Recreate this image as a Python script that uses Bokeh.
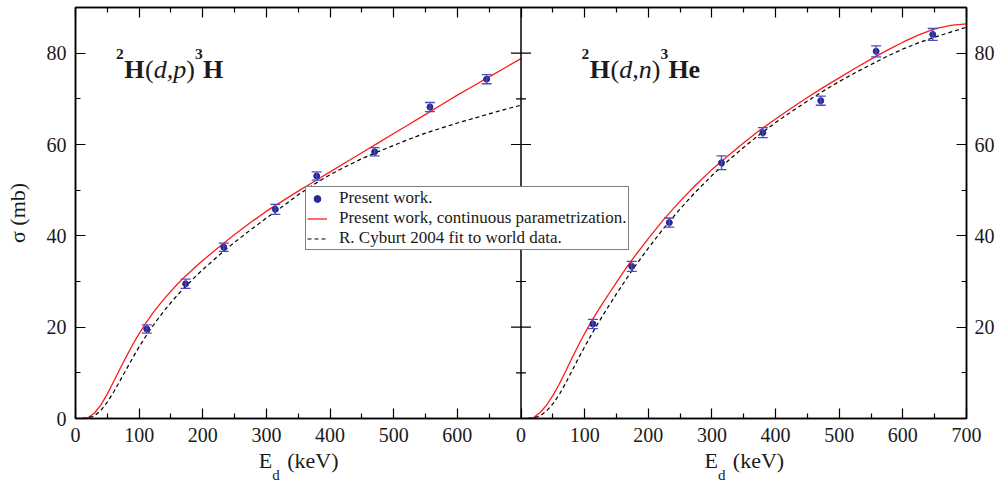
from bokeh.plotting import figure
from bokeh.models import (Range1d, LinearAxis, FixedTicker, Span, Label, Legend,
                          LegendItem, Whisker, TeeHead, ColumnDataSource)
from bokeh.embed import file_html
from bokeh.resources import INLINE

# ---------------- data ----------------
E_curve = [0, 10, 20, 30, 40, 50, 60, 70, 80, 90, 100, 110, 120, 130, 140, 150, 160, 170,
           180, 190, 200, 225, 250, 275, 300, 325, 350, 375, 400, 425, 450, 475, 500, 525,
           550, 575, 600, 625, 650, 675, 700]
# 2H(d,p)3H
dp_fit = [0, 0, 0.2, 1.2, 3.0, 5.4, 8.1, 10.9, 13.6, 16.2, 18.6, 20.8, 22.8, 24.6, 26.3,
          27.9, 29.4, 30.8, 32.1, 33.4, 34.6, 37.5, 40.3, 42.9, 45.4, 47.6, 49.8, 51.9,
          54.0, 56.1, 58.2, 60.3, 62.4, 64.5, 66.6, 68.7, 70.8, 72.8, 74.8, 76.8, 78.8]
dp_cyb = [0, 0, 0.1, 0.6, 1.8, 3.6, 5.8, 8.3, 10.8, 13.3, 15.7, 17.9, 20.0, 21.9, 23.7,
          25.4, 27.0, 28.5, 29.9, 31.3, 32.6, 35.7, 38.6, 41.3, 43.9, 46.4, 49.0, 51.3,
          53.4, 55.2, 56.9, 58.4, 59.8, 61.2, 62.5, 63.6, 64.7, 65.7, 66.7, 67.7, 68.6]
dp_E = [112, 173, 233, 314, 379, 470, 557, 646]
dp_sig = [19.6, 29.5, 37.5, 45.8, 53.1, 58.4, 68.2, 74.3]
dp_err = [0.9, 1.0, 0.9, 1.1, 0.9, 0.9, 1.0, 1.0]
# 2H(d,n)3He
dn_fit = [0, 0, 0.2, 1.3, 2.9, 5.0, 7.5, 10.3, 13.2, 16.0, 18.6, 21.1, 23.4, 25.6, 27.7,
          29.8, 31.9, 33.9, 35.8, 37.6, 39.4, 43.7, 47.6, 51.2, 54.5, 57.5, 60.4, 63.1,
          65.6, 68.0, 70.3, 72.5, 74.6, 76.7, 78.7, 80.6, 82.4, 84.0, 85.3, 86.1, 86.4]
dn_cyb = [0, 0, 0.1, 0.6, 1.6, 3.2, 5.2, 7.7, 10.4, 13.1, 15.7, 18.2, 20.6, 22.9, 25.1,
          27.3, 29.4, 31.5, 33.5, 35.4, 37.3, 41.8, 45.9, 49.7, 53.2, 56.4, 59.4, 62.2,
          64.8, 67.2, 69.5, 71.7, 73.8, 75.7, 77.5, 79.3, 80.9, 82.3, 83.5, 84.6, 85.7]
dn_E = [113, 174, 233, 315, 380, 471, 558, 647]
dn_sig = [20.7, 33.3, 42.9, 56.0, 62.6, 69.6, 80.4, 84.1]
dn_err = [1.0, 1.1, 1.0, 1.5, 1.1, 1.0, 1.2, 1.3]

x_major = [0, 100, 200, 300, 400, 500, 600, 700]
x_minor = [50, 150, 250, 350, 450, 550, 650]
y_major = [0, 20, 40, 60, 80]
y_minor = [10, 30, 50, 70, 90]

legend_labels = ["Present work.",
                 "Present work, continuous parametrization.",
                 "R. Cyburt 2004 fit to world data."]

# ---------------- styling / geometry ----------------
FONT = "Liberation Serif"
RED = "#ff1a1a"
NAVY = "#2a2a8c"
ERR = "#4b4bc4"
TXT = "#1a1a1a"
PANEL = 700   # keV span of one panel
YTOP = 90

W, H = 998, 485
FL, FR, FT, FB = 75, 32, 7, 66
frame_w = W - FL - FR
frame_h = H - FT - FB
kev_per_px = 2 * PANEL / frame_w
mb_per_px = YTOP / frame_h

p = figure(width=W, height=H, x_range=Range1d(0, 2 * PANEL), y_range=Range1d(0, YTOP),
           output_backend="svg", toolbar_location=None,
           min_border_left=FL, min_border_right=FR, min_border_top=FT, min_border_bottom=FB,
           x_axis_location=None, y_axis_location=None)
p.extra_x_ranges = {"right": Range1d(-PANEL, PANEL)}
p.grid.visible = False
p.background_fill_color = "white"
p.border_fill_color = "white"
p.outline_line_color = "black"
p.outline_line_width = 1.5

x_ticks = [v for v in x_major] + [v + PANEL for v in x_major[1:]]
x_ticker = FixedTicker(ticks=x_ticks,
                       minor_ticks=[v for v in x_minor] + [v + PANEL for v in x_minor])
y_ticker = FixedTicker(ticks=y_major, minor_ticks=y_minor)


def style_axis(ax):
    ax.axis_line_color = "black"
    ax.axis_line_width = 1.5
    ax.major_tick_in = 10
    ax.major_tick_out = 0
    ax.minor_tick_in = 5
    ax.minor_tick_out = 0
    ax.major_tick_line_color = "black"
    ax.minor_tick_line_color = "black"
    ax.major_tick_line_width = 1.2
    ax.minor_tick_line_width = 1.2
    ax.major_label_text_font = FONT
    ax.major_label_text_color = TXT
    ax.major_label_text_font_size = "20px"


# bottom axis: left panel 0..600, right panel 0..700
xb = LinearAxis(ticker=x_ticker,
                major_label_overrides={float(v + PANEL): str(v) for v in x_major})
style_axis(xb)
xb.major_label_standoff = 9
p.add_layout(xb, "below")

xa = LinearAxis(ticker=x_ticker, major_label_overrides={float(v): "" for v in x_ticks})
style_axis(xa)
xa.major_label_standoff = 0
p.add_layout(xa, "above")

yl = LinearAxis(ticker=y_ticker, axis_label="σ (mb)")
style_axis(yl)
yl.major_label_standoff = 9
yl.axis_label_text_font = FONT
yl.axis_label_text_font_size = "22px"
yl.axis_label_text_font_style = "normal"
yl.axis_label_text_color = TXT
yl.axis_label_standoff = 14
p.add_layout(yl, "left")

yr = LinearAxis(ticker=y_ticker, major_label_overrides={0.0: ""})
style_axis(yr)
yr.major_label_standoff = 8
p.add_layout(yr, "right")


def px2x(px):
    return round((px - FL) * kev_per_px, 1)


# x-axis titles "E_d (keV)" under each panel: two label-only axes (main text, subscript)
title_pos = [px2x(265.0), px2x(312.3), px2x(710.7), px2x(758.0)]
title_txt = ["E", "(keV)", "E", "(keV)"]
sub_pos = [px2x(275.5), px2x(721.2)]
sub_txt = ["d", "d"]


def label_axis(ticks, texts, size, standoff):
    ax = LinearAxis(ticker=FixedTicker(ticks=ticks, minor_ticks=[]),
                    major_label_overrides={t: s for t, s in zip(ticks, texts)})
    ax.axis_line_color = None
    ax.major_tick_line_color = None
    ax.minor_tick_line_color = None
    ax.major_tick_in = 0
    ax.major_tick_out = 0
    ax.minor_tick_in = 0
    ax.minor_tick_out = 0
    ax.major_label_text_font = FONT
    ax.major_label_text_font_size = f"{size}px"
    ax.major_label_text_color = TXT
    ax.major_label_standoff = standoff
    p.add_layout(ax, "below")


label_axis(title_pos, title_txt, 22, 3)
label_axis(sub_pos, sub_txt, 15, -9)

# divider between the two panels, with inward ticks on both sides
p.add_layout(Span(location=PANEL, dimension="height", line_color="black", line_width=1.5))
maj = 10 * kev_per_px
mnr = 5 * kev_per_px
p.segment(x0=[PANEL - maj] * 4, x1=[PANEL + maj] * 4,
          y0=y_major[1:], y1=y_major[1:], line_color="black", line_width=1.2)
p.segment(x0=[PANEL - mnr] * 4, x1=[PANEL + mnr] * 4,
          y0=y_minor[:-1], y1=y_minor[:-1], line_color="black", line_width=1.2)


def panel(E_pts, sig, err, fit, cyb, rng):
    kw = {} if rng is None else {"x_range_name": rng}
    r_fit = p.line(E_curve, fit, line_color=RED, line_width=1.3, **kw)
    r_cyb = p.line(E_curve, cyb, line_color="black", line_width=1.2, line_dash="4 3", **kw)
    src = ColumnDataSource(dict(x=E_pts, y=sig,
                                lo=[s - e for s, e in zip(sig, err)],
                                hi=[s + e for s, e in zip(sig, err)]))
    wh = Whisker(base="x", lower="lo", upper="hi", source=src, line_color=ERR, line_width=1.3,
                 upper_head=TeeHead(size=10, line_color=ERR, line_width=1.3),
                 lower_head=TeeHead(size=10, line_color=ERR, line_width=1.3), level="glyph", **kw)
    p.add_layout(wh)
    r_pts = p.scatter("x", "y", source=src, size=6, fill_color=NAVY, line_color=NAVY, **kw)
    return r_pts, r_fit, r_cyb


r_pts, r_fit, r_cyb = panel(dp_E, dp_sig, dp_err, dp_fit, dp_cyb, None)
panel(dn_E, dn_sig, dn_err, dn_fit, dn_cyb, "right")

legend = Legend(items=[LegendItem(label=legend_labels[0], renderers=[r_pts]),
                       LegendItem(label=legend_labels[1], renderers=[r_fit]),
                       LegendItem(label=legend_labels[2], renderers=[r_cyb])],
                location=(230, 168), orientation="vertical",
                label_text_font=FONT, label_text_font_size="17px", label_text_color=TXT,
                glyph_width=20, glyph_height=17, label_height=17, label_standoff=12,
                spacing=0, padding=1, margin=0,
                border_line_color="black", border_line_width=1.2,
                background_fill_color="white", background_fill_alpha=1.0)
p.add_layout(legend, "center")


# ---------------- reaction titles ----------------
def px2y(py):
    return (FT + frame_h - py) * mb_per_px


def put(xp, yp, text, size, style="normal"):
    p.add_layout(Label(x=(xp - FL) * kev_per_px, y=px2y(yp), text=text, text_font=FONT,
                       text_font_size=f"{size}px", text_font_style=style, text_color=TXT,
                       text_align="left", text_baseline="alphabetic"))


def reaction(x0, parts):
    for dx, text, kind in parts:
        if kind == "sup":
            put(x0 + dx, 54, text, 15.5, "bold")
        elif kind == "b":
            put(x0 + dx, 69, text, 26, "bold")
        elif kind == "i":
            put(x0 + dx, 69, text, 26, "italic")
        else:
            put(x0 + dx, 69, text, 26, "normal")


reaction(115.5, [(0, "2", "sup"), (8.3, "H", "b"), (28.9, "(", "n"), (37.8, "d", "i"),
                 (50.8, ",", "i"), (57.3, "p", "i"), (70.3, ")", "n"), (79.1, "3", "sup"),
                 (86.9, "H", "b")])
reaction(581, [(0, "2", "sup"), (8.3, "H", "b"), (28.9, "(", "n"), (37.8, "d", "i"),
               (50.8, ",", "i"), (57.3, "n", "i"), (70.3, ")", "n"), (79.1, "3", "sup"),
               (86.9, "H", "b"), (107.1, "e", "b")])

open("out.html", "w").write(file_html(p, INLINE))
